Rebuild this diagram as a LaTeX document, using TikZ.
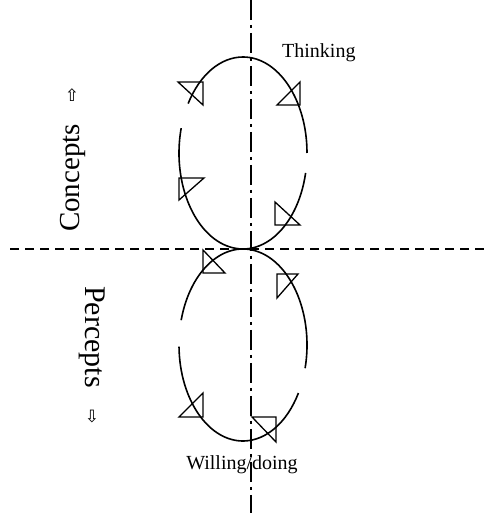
\documentclass[tikz,border=0pt]{standalone}
\usepackage{fontspec}
\setmainfont{Liberation Serif}
\newfontfamily\symfont{DejaVu Sans}
\usetikzlibrary{positioning, calc}

\begin{document}
\begin{tikzpicture}[
    x=1pt, y=1pt,
    every node/.style={inner sep=0pt},
    loopline/.style={line width=1.6pt},
    tipmark/.style={draw, line width=1.3pt, line join=miter},
    axisline/.style={line width=1.2pt},
    label/.style={font=\fontsize{20}{24}\selectfont},
    side/.style={font=\fontsize{29}{34}\selectfont},
    pointer/.style={font=\symfont\fontsize{17}{20}\selectfont},
  ]
  \useasboundingbox (0,0) rectangle (489,513);

  % Axes
  \coordinate (vtop) at (251,513);
  \coordinate (vbot) at (251,0);
  \coordinate (hleft) at (10,264);
  \coordinate (hright) at (489,264);
  \draw[axisline, dash pattern=on 20pt off 5pt on 3pt off 5pt] (vtop) -- (vbot);
  \draw[axisline, dash pattern=on 9pt off 6pt] (hleft) -- (hright);

  % Upper loop
  \coordinate (upper) at (243,360);
  \draw[loopline] (upper) ++(0:64pt and 96pt)
    arc[start angle=0, end angle=149, x radius=64pt, y radius=96pt];
  \draw[loopline] (upper) ++(165:64pt and 96pt)
    arc[start angle=165, end angle=348, x radius=64pt, y radius=96pt];
  \draw[tipmark] (178,431) -- (203,431) -- (203,408) -- cycle;
  \draw[tipmark] (277,408) -- (300,431) -- (300,408) -- cycle;
  \draw[tipmark] (179,335) -- (204,335) -- (179,313) -- cycle;
  \draw[tipmark] (275,311) -- (275,288) -- (300,288) -- cycle;

  % Lower loop
  \coordinate (lower) at (243,168);
  \draw[loopline] (lower) ++(181:64pt and 96pt)
    arc[start angle=181, end angle=330, x radius=64pt, y radius=96pt];
  \draw[loopline] (lower) ++(-14:64pt and 96pt)
    arc[start angle=-14, end angle=165, x radius=64pt, y radius=96pt];
  \draw[tipmark] (203,263) -- (225,240) -- (203,240) -- cycle;
  \draw[tipmark] (277,239) -- (298,239) -- (277,215) -- cycle;
  \draw[tipmark] (203,120) -- (203,96) -- (179,96) -- cycle;
  \draw[tipmark] (252,96) -- (276,96) -- (276,71) -- cycle;

  % Labels
  \node[label, anchor=base west] (thinking) at (282,455) {Thinking};
  \node[label, anchor=base] (willing) at (242,43) {Willing/doing};
  \node[side, rotate=90] (concepts) at (73,335) {Concepts};
  \node[side, rotate=-90, font=\fontsize{30}{35}\selectfont] (percepts) at (92,176) {Percepts};
  \node[pointer] (up) at (72,418) {⇧};
  \node[pointer] (down) at (92,96) {⇩};
\end{tikzpicture}
\end{document}
